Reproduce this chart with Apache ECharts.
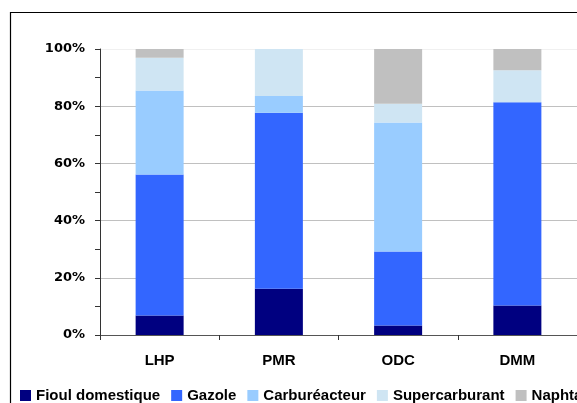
<!DOCTYPE html>
<html>
<head>
<meta charset="utf-8">
<script src="https://cdn.jsdelivr.net/npm/echarts@6/dist/echarts.min.js"></script>
<style>
html,body{margin:0;padding:0;background:#fff;}
#c{width:577px;height:403px;}
</style>
</head>
<body>
<div id="c"></div>
<script>
const categories = ['LHP', 'PMR', 'ODC', 'DMM'];
const fioulDomestique = [6.8, 16.2, 3.3, 10.3];
const gazole = [49.3, 61.5, 25.9, 71.1];
const carbureacteur = [29.4, 5.9, 45.1, 0];
const supercarburant = [11.4, 16.4, 6.6, 11.2];
const naphta = [3.1, 0, 19.1, 7.4];
const yTicks = [0, 20, 40, 60, 80, 100];

const seriesNames = ['Fioul domestique', 'Gazole', 'Carburéacteur', 'Supercarburant', 'Naphta'];
const seriesData = [fioulDomestique, gazole, carbureacteur, supercarburant, naphta];
const colors = ['#000080', '#3366FF', '#99CCFF', '#CFE5F3', '#C0C0C0'];

const chart = echarts.init(document.getElementById('c'), null, {renderer: 'canvas'});
chart.setOption({
  animation: false,
  backgroundColor: '#fff',
  color: colors,
  graphic: [{
    type: 'rect',
    shape: {x: 10.5, y: 12.5, width: 700, height: 600},
    style: {fill: 'none', stroke: '#000', lineWidth: 1.2},
    silent: true,
    z: 100
  }],
  grid: {left: 100, top: 49, width: 480, height: 286, containLabel: false},
  legend: {
    data: seriesNames,
    left: 20,
    top: 388,
    width: 800,
    padding: 0,
    itemGap: 11,
    itemWidth: 11,
    itemHeight: 11,
    icon: 'rect',
    textStyle: {fontFamily: 'Liberation Sans, Arial', fontWeight: 'bold', fontSize: 15, color: '#000', lineHeight: 15}
  },
  xAxis: {
    type: 'category',
    data: categories,
    axisLine: {lineStyle: {color: '#555', width: 1}},
    axisTick: {show: true, length: 5, alignWithLabel: false, lineStyle: {color: '#333'}},
    axisLabel: {margin: 18, fontFamily: 'Liberation Sans, Arial', fontWeight: 'bold', fontSize: 15, color: '#000', lineHeight: 15},
    splitLine: {show: false}
  },
  yAxis: {
    type: 'value',
    min: yTicks[0],
    max: yTicks[yTicks.length - 1],
    interval: 20,
    axisLine: {show: true, lineStyle: {color: '#333', width: 1}},
    axisTick: {show: true, length: 5, lineStyle: {color: '#333'}},
    minorTick: {show: true, splitNumber: 2, length: 5, lineStyle: {color: '#333'}},
    axisLabel: {
      margin: 15,
      formatter: '{value}%',
      fontFamily: 'DejaVu Sans',
      fontWeight: 'bold',
      fontSize: 13,
      color: '#000',
      padding: [5, 0, 0, 0]
    },
    splitLine: {show: true, lineStyle: {color: ['#c0c0c0', '#c0c0c0', '#c0c0c0', '#c0c0c0', '#c0c0c0', '#f0f0f0'], width: 1}}
  },
  series: seriesNames.map((name, i) => ({
    name: name,
    type: 'bar',
    stack: 'total',
    barWidth: 48,
    data: seriesData[i],
    itemStyle: {color: colors[i]}
  }))
});
</script>
</body>
</html>
